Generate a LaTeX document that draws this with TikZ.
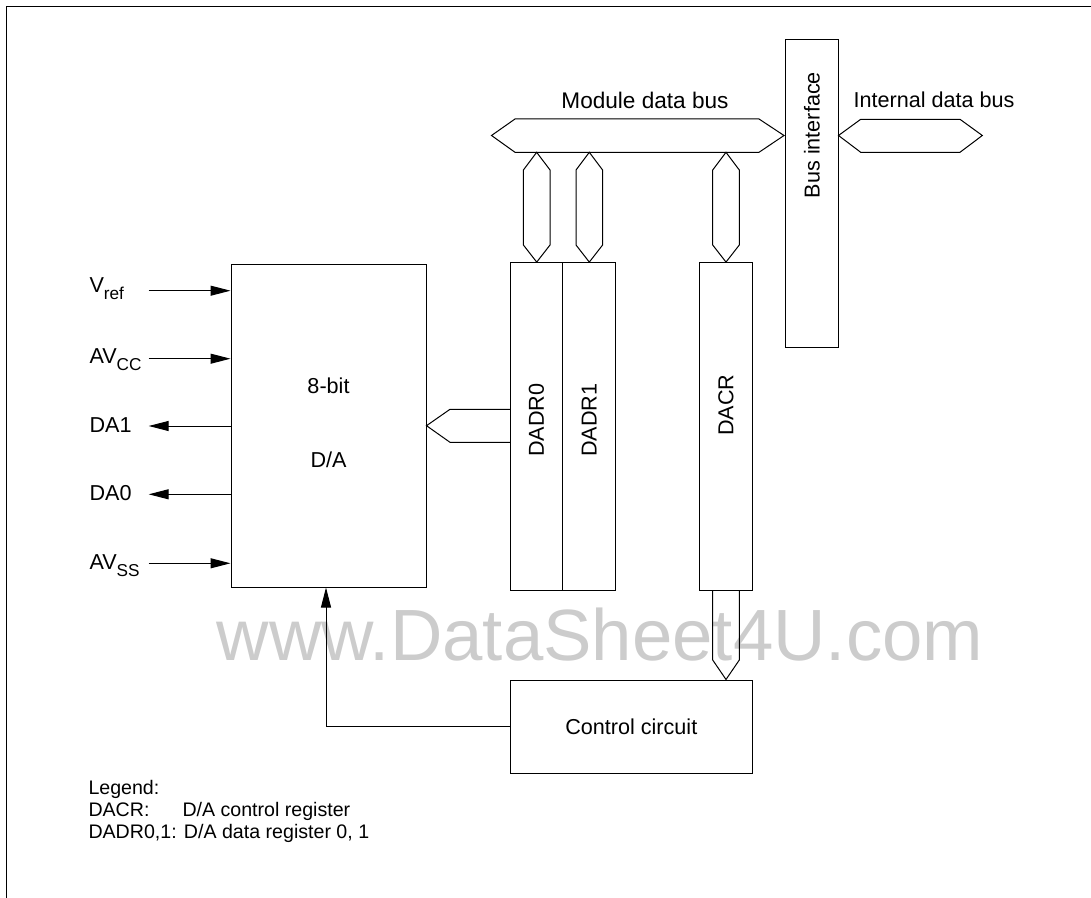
\documentclass[tikz,border=0pt]{standalone}
\usepackage{fontspec}
\setmainfont{Liberation Sans}
\usetikzlibrary{arrows.meta}
\newcommand{\sbs}[1]{\raisebox{-3.5pt}{\fontsize{8.6}{10}\selectfont #1}}
\begin{document}
\begin{tikzpicture}[x=0.5pt,y=-0.5pt, line width=0.5pt,
  every node/.style={font=\fontsize{10.8}{13}\selectfont, inner sep=0pt},
  blk/.style={draw, rectangle, inner sep=0pt, fill=white},
  bus/.style={draw, line join=miter, fill=white},
  sig/.style={-{Triangle[length=10pt,width=5pt]}},
  lbl/.style={anchor=base west},
  leg/.style={anchor=base west, font=\fontsize{9.8}{12}\selectfont},
  ]
\useasboundingbox (0,0) rectangle (1091,898);
% frame
\draw[line width=0.7pt] (6.5,898) -- (6.5,6.5) -- (1091,6.5);
% watermark
\node[anchor=base, text=black!20, font=\fontsize{36.3}{40}\selectfont] (wm) at (600,660) {www.DataSheet4U.com};

% blocks
\node[blk, minimum width=97.5pt, minimum height=161pt] (da) at (328.5,426) {};
\node (da1) at (328.5,386) {8-bit};
\node (da2) at (328.5,460) {D/A};
\node[blk, minimum width=26.2pt, minimum height=163.7pt] (dadr0) at (536.5,426.3) {};
\node[blk, minimum width=26.6pt, minimum height=163.7pt] (dadr1) at (589.3,426.3) {};
\node[blk, minimum width=26.7pt, minimum height=163.7pt] (dacr) at (726,426.3) {};
\node[rotate=90] (t0) at (536.5,420) {DADR0};
\node[rotate=90] (t1) at (589.3,420) {DADR1};
\node[rotate=90] (t2) at (726,405) {DACR};
\node[blk, minimum width=26.5pt, minimum height=154pt] (busif) at (811.5,194) {};
\node[rotate=90] (tb) at (812,135) {Bus interface};
\node[blk, minimum width=121.3pt, minimum height=46.7pt] (ctrl) at (631.3,726.7) {Control circuit};

% bus labels
\node[font=\fontsize{11.3}{13}\selectfont] (mdbl) at (645,100) {Module data bus};
\node (idbl) at (934,100) {Internal data bus};

% module data bus
\draw[bus] (491.5,135.5) -- (515,119) -- (759,119) -- (784,135.5) -- (759,152.3) -- (515,152.3) -- cycle;
% internal data bus
\draw[bus] (838.5,135.5) -- (860.7,119.3) -- (960,119.3) -- (982.3,135.5) -- (960,152.3) -- (860.7,152.3) -- cycle;

% vertical buses to registers
\foreach \n/\xx in {dadr0/536.7, dadr1/589.3, dacr/726}{
  \draw[bus] (\xx,152.3) -- (\xx+13.3,170) -- (\xx+13.3,245) -- (\n.north -| \xx,0) -- (\xx-13.3,245) -- (\xx-13.3,170) -- cycle;
}

% DADR -> D/A bus
\draw[bus] (dadr0.west |- 0,409.3) -- (450,409.3) -- (da.east |- 0,425.7) -- (450,442.3) -- (dadr0.west |- 0,442.3);

% DACR -> control circuit
\draw (dacr.south -| 712.7,0) -- (712.7,660) -- (ctrl.north -| 726,0) -- (739.3,660) -- (dacr.south -| 739.3,0);

% control -> D/A
\coordinate (cc) at (326,726.7);
\draw[sig] (ctrl.west) -- (cc) -- (da.south -| cc);

% pins
\coordinate (p1) at (148.7,290.7);
\coordinate (p2) at (148.7,358.7);
\coordinate (p3) at (148.7,426);
\coordinate (p4) at (148.7,494.3);
\coordinate (p5) at (148.7,563.3);
\draw[sig] (p1) -- (da.west |- p1);
\draw[sig] (p2) -- (da.west |- p2);
\draw[sig] (da.west |- p3) -- (p3);
\draw[sig] (da.west |- p4) -- (p4);
\draw[sig] (p5) -- (da.west |- p5);
\node[lbl] (l1) at (89,292.7) {V\sbs{ref}};
\node[lbl] (l2) at (89,364) {AV\sbs{CC}};
\node[lbl] (l3) at (89,432) {DA1};
\node[lbl] (l4) at (89,500.3) {DA0};
\node[lbl] (l5) at (89,569.3) {AV\sbs{SS}};

% legend
\node[leg] (g1) at (88,794) {Legend:};
\node[leg] (g2) at (88,816) {DACR:};
\node[leg] (g3) at (182,816) {D/A control register};
\node[leg] (g4) at (88,838) {DADR0,1: D/A data register 0, 1};
\end{tikzpicture}
\end{document}
